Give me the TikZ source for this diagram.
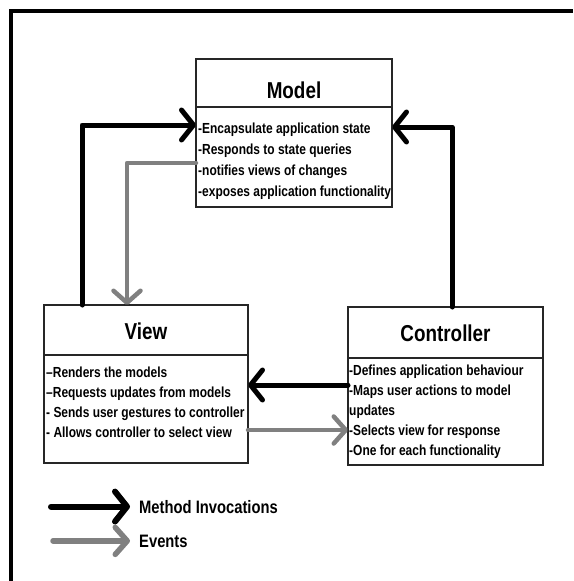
\documentclass[tikz,border=0pt]{standalone}
\usepackage{fontspec}
\newfontfamily\mvcfont[FakeStretch=0.82]{Liberation Sans}
\usetikzlibrary{arrows.meta,positioning,calc}
\definecolor{eventgray}{RGB}{128,128,128}
\tikzset{
  boxtitle/.style={draw=black!85, line width=1.1pt, inner sep=0pt, outer sep=0pt,
    text depth=0pt, font=\mvcfont\bfseries\fontsize{23}{24}\selectfont},
  boxbody/.style={draw=black!85, line width=1.1pt, inner sep=0pt, outer sep=0pt},
  item/.style={anchor=base west, inner sep=0pt,
    font=\mvcfont\bfseries\fontsize{14.6}{15}\selectfont},
  legendtext/.style={anchor=base west, inner sep=0pt,
    font=\mvcfont\bfseries\fontsize{18}{19}\selectfont},
  invoke/.style={line width=5pt, line join=round, line cap=round,
    -{Straight Barb[length=12pt,width=30pt,round]}},
  event/.style={eventgray, line width=4.5pt, line join=round, line cap=round,
    -{Straight Barb[length=12pt,width=27pt,round]}}
}
\begin{document}
\begin{tikzpicture}[x=1pt, y=-1pt]
    \useasboundingbox (0,0) rectangle (573,581);
    % page frame
    \draw[line width=4pt] (10.5,581) -- (10.5,11) -- (573,11);

    % Model
    \node[boxtitle, minimum width=196pt, minimum height=48pt, text height=30pt] (model) at (294,83) {Model};
    \node[boxbody, minimum width=196pt, minimum height=100pt, below=0pt of model] (modelbody) {};
    \foreach \i/\txt in {1/{-Encapsulate application state}, 2/{-Responds to state queries},
        3/{-notifies views of changes}, 4/{-exposes application functionality}}
        \node[item] (m\i) at (198,112+21*\i) {\txt};

    % View
    \node[boxtitle, minimum width=204pt, minimum height=50pt, text height=18pt] (view) at (146,330) {View};
    \node[boxbody, minimum width=204pt, minimum height=108pt, below=0pt of view] (viewbody) {};
    \foreach \i/\txt in {1/{–Renders the models}, 2/{–Requests updates from models},
        3/{- Sends user gestures to controller}, 4/{- Allows controller to select view}}
        \node[item] (v\i) at (46,357+20*\i) {\txt};

    % Controller
    \node[boxtitle, minimum width=195pt, minimum height=51pt, text height=17pt] (ctrl) at (445.5,332.5) {Controller};
    \node[boxbody, minimum width=195pt, minimum height=107pt, below=0pt of ctrl] (ctrlbody) {};
    \foreach \i/\txt in {1/{-Defines application behaviour}, 2/{-Maps user actions to model},
        3/{updates}, 4/{-Selects view for response}, 5/{-One for each functionality}}
        \node[item] (c\i) at (349,355+20*\i) {\txt};

    % method invocations
    \draw[invoke] ($(view.north west)+(38,0)$) |- ($(modelbody.north west)+(0,18)$);
    \draw[invoke] ($(ctrl.north west)+(104,0)$) |- ($(modelbody.north east)+(0,20)$);
    \draw[invoke] ($(ctrlbody.north west)+(0,27)$) -- ($(viewbody.north east)+(0,30)$);

    % events
    \draw[event] ($(modelbody.north west)+(0,56)$) -| ($(view.north west)+(83,0)$);
    \draw[event] ($(viewbody.north east)+(0,75)$) -- ($(ctrlbody.north west)+(0,72)$);

    % legend
    \node[legendtext] (legmeth) at (139,513) {Method Invocations};
    \node[legendtext] (legevt) at (139,547) {Events};
    \draw[invoke, line width=6pt] ($(legmeth.west)+(-88,0)$) -- ($(legmeth.west)+(-9,0)$);
    \draw[event, line width=5.5pt] ($(legevt.west)+(-86,0)$) -- ($(legevt.west)+(-9,0)$);
\end{tikzpicture}
\end{document}
